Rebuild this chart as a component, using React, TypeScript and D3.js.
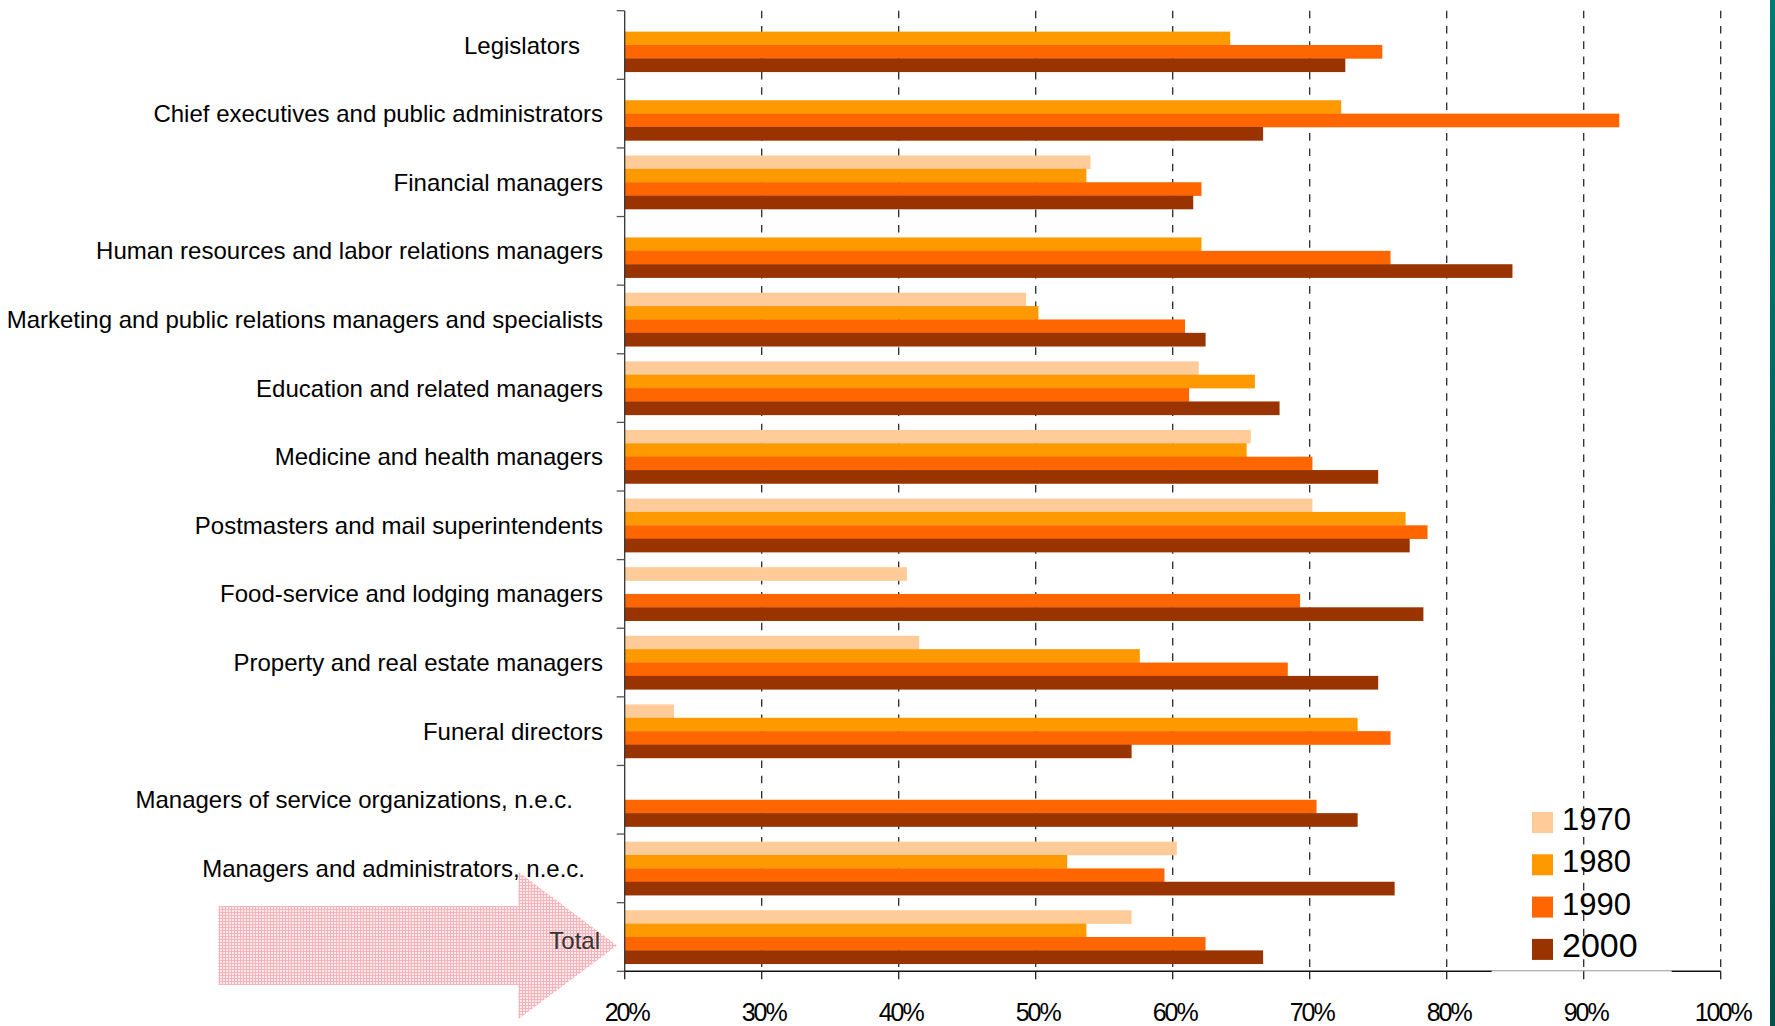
import React from "react";
import * as d3 from "d3";

const categories = [
  "Legislators",
  "Chief executives and public administrators",
  "Financial managers",
  "Human resources and labor relations managers",
  "Marketing and public relations managers and specialists",
  "Education and related managers",
  "Medicine and health managers",
  "Postmasters and mail superintendents",
  "Food-service and lodging managers",
  "Property and real estate managers",
  "Funeral directors",
  "Managers of service organizations, n.e.c.",
  "Managers and administrators, n.e.c.",
  "Total",
];

const years = ["1970", "1980", "1990", "2000"];

const v1970: (number | null)[] = [null, null, 54.0, null, 49.3, 61.9, 65.7, 70.2, 40.6, 41.5, 23.6, null, 60.3, 57.0];
const v1980: (number | null)[] = [64.2, 72.3, 53.7, 62.1, 50.2, 66.0, 65.4, 77.0, null, 57.6, 73.5, null, 52.3, 53.7];
const v1990: (number | null)[] = [75.3, 92.6, 62.1, 75.9, 60.9, 61.2, 70.2, 78.6, 69.3, 68.4, 75.9, 70.5, 59.4, 62.4];
const v2000: (number | null)[] = [72.6, 66.6, 61.5, 84.8, 62.4, 67.8, 75.0, 77.3, 78.3, 75.0, 57.0, 73.5, 76.2, 66.6];

const xTicks = [20, 30, 40, 50, 60, 70, 80, 90, 100];

// ---- layout / style (not data) ----
const W = 1775;
const H = 1026;
const colors = ["#FFCC99", "#FF9900", "#FF6600", "#993300"];
const labelEndDefault = 603;
const labelEndOverride: Record<string, number> = {
  Legislators: 580,
  "Managers of service organizations, n.e.c.": 573,
  "Managers and administrators, n.e.c.": 585,
  Total: 600,
};
const PAD = 0.22;

export default function App() {
  React.useEffect(() => {
    document.body.style.margin = "0";
    document.body.style.overflow = "hidden";
  }, []);

  const series = [v1970, v1980, v1990, v2000];

  const top = 10.7;
  const bottom = 971.3;
  const x = d3.scaleLinear().domain([20, 100]).range([624.7, 1720.7]);
  const y = d3
    .scaleBand<string>()
    .domain(categories)
    .range([top, bottom])
    .paddingInner(PAD)
    .paddingOuter(PAD / 2)
    .align(0.5);
  const yInner = d3.scaleBand<string>().domain(years).range([0, y.bandwidth()]);
  const step = y.step();
  const catTicks = d3.range(categories.length + 1).map((i) => top + i * step);

  const axisY = bottom;
  const x0 = x(20);

  // arrow geometry
  const arrowCy = 945.5;
  const shaftHalf = 39.5;
  const headHalf = 73.5;
  const shaftX0 = 218.5;
  const headX = 518.5;
  const tipX = 617;
  const arrowPath = [
    [shaftX0, arrowCy - shaftHalf],
    [headX, arrowCy - shaftHalf],
    [headX, arrowCy - headHalf],
    [tipX, arrowCy],
    [headX, arrowCy + headHalf],
    [headX, arrowCy + shaftHalf],
    [shaftX0, arrowCy + shaftHalf],
  ];
  const arrowD = d3.line()(arrowPath as [number, number][]) + "Z";

  const legendX = 1532;
  const legendTop = 812;
  const legendStep = 42.3;
  const legendFont = [31, 31, 31, 34];

  return (
    <svg
      width={W}
      height={H}
      viewBox={`0 0 ${W} ${H}`}
      style={{ position: "absolute", left: 0, top: 0, display: "block", background: "#fff" }}
      fontFamily="'Liberation Sans', Arial, sans-serif"
    >
      <defs>
        <pattern id="pinkMesh" width="3" height="3" patternUnits="userSpaceOnUse">
          <rect width="3" height="3" fill="#fde6e8" />
          <rect width="3" height="1" fill="#f6aab2" />
          <rect width="1" height="3" fill="#f6aab2" />
        </pattern>
        <linearGradient id="tealBar" x1="0" y1="0" x2="0" y2="1">
          <stop offset="0" stopColor="#007a76" />
          <stop offset="1" stopColor="#00504b" />
        </linearGradient>
      </defs>
      <rect width={W} height={H} fill="#fff" />

      {/* gridlines */}
      {xTicks
        .filter((t) => t > 20)
        .map((t) => (
          <line
            key={"g" + t}
            x1={x(t)}
            x2={x(t)}
            y1={top}
            y2={axisY}
            stroke="#2a2a2a"
            strokeWidth={1.3}
            strokeDasharray="7.6 7.7"
          />
        ))}

      {/* pink arrow */}
      <path d={arrowD} fill="url(#pinkMesh)" opacity={0.9} />

      {/* bars */}
      {categories.map((c, ci) => (
        <g key={c} transform={`translate(0,${y(c)})`}>
          {series.map((s, si) => {
            const v = s[ci];
            if (v == null) return null;
            return (
              <rect
                key={years[si]}
                x={x0}
                y={yInner(years[si])}
                width={x(v) - x0}
                height={yInner.bandwidth() + 0.3}
                fill={colors[si]}
              />
            );
          })}
        </g>
      ))}

      {/* y axis */}
      <line x1={x0} x2={x0} y1={top} y2={axisY} stroke="#333" strokeWidth={1.3} />
      {catTicks.map((t, i) => (
        <line key={"ct" + i} x1={x0 - 8} x2={x0} y1={t} y2={t} stroke="#555" strokeWidth={1.3} />
      ))}

      {/* x axis */}
      <line x1={x0} x2={x(100)} y1={axisY} y2={axisY} stroke="#111" strokeWidth={1.4} />
      <line x1={1491.7} x2={1671.7} y1={axisY} y2={axisY} stroke="#e2e2e2" strokeWidth={1.6} />
      {xTicks.map((t) => (
        <line key={"xt" + t} x1={x(t)} x2={x(t)} y1={axisY} y2={axisY + 8} stroke="#222" strokeWidth={1.3} />
      ))}
      {xTicks.map((t) => (
        <text
          key={"xl" + t}
          x={x(t) + 2}
          y={1021}
          fontSize={25}
          letterSpacing={-2}
          textAnchor="middle"
          fill="#000"
        >
          {t + "%"}
        </text>
      ))}

      {/* category labels */}
      {categories.map((c) => {
        const cy = (y(c) as number) + y.bandwidth() / 2;
        const isTotal = c === "Total";
        return (
          <text
            key={"l" + c}
            x={labelEndOverride[c] ?? labelEndDefault}
            y={cy + 8.5 + (isTotal ? 3.5 : 0)}
            fontSize={24}
            textAnchor="end"
            fill={isTotal ? "#333" : "#000"}
          >
            {c}
          </text>
        );
      })}

      {/* legend */}
      {years.map((yr, i) => (
        <g key={"lg" + yr}>
          <rect x={legendX} y={legendTop + i * legendStep} width={21} height={21} fill={colors[i]} />
          <text
            x={legendX + 30}
            y={legendTop + i * legendStep + 18}
            fontSize={legendFont[i]}
            fill="#000"
          >
            {yr}
          </text>
        </g>
      ))}

      {/* right teal edge */}
      <rect x={1770} y={0} width={5} height={H} fill="url(#tealBar)" />
    </svg>
  );
}
